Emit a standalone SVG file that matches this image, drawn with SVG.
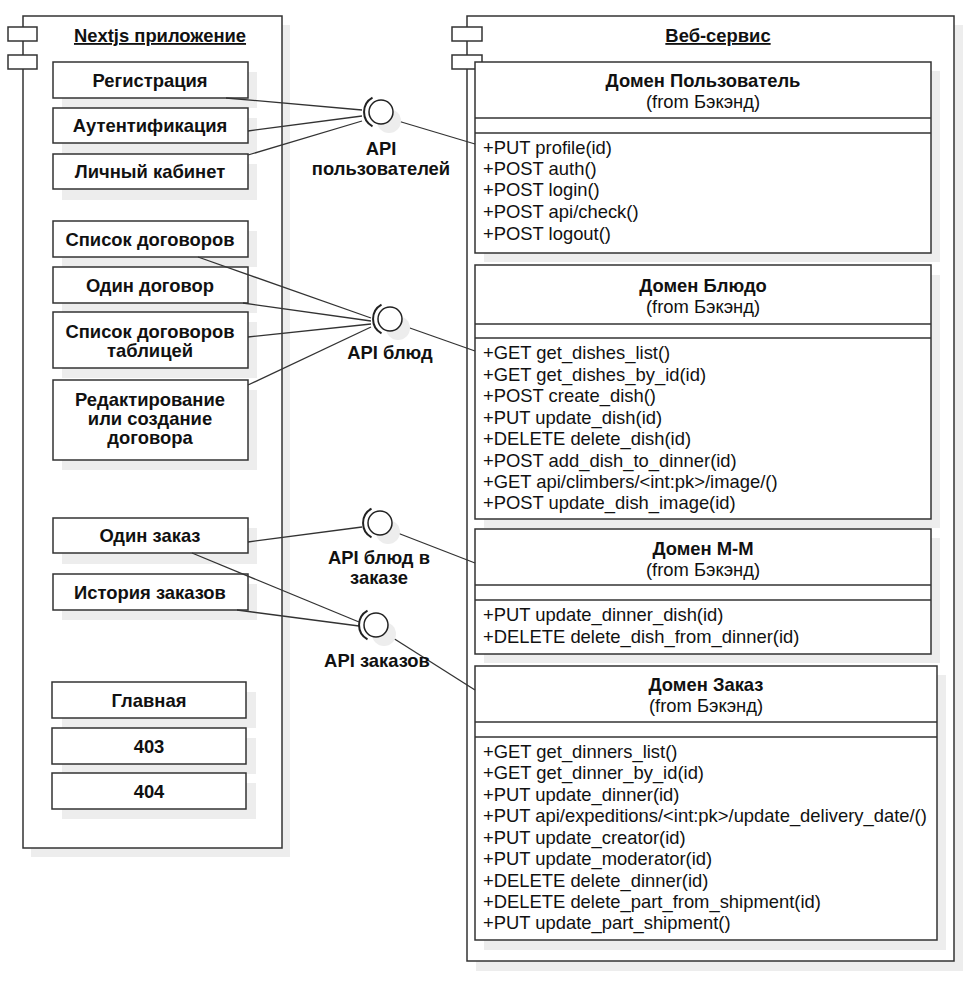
<svg xmlns="http://www.w3.org/2000/svg" width="974" height="983" viewBox="0 0 974 983">
<style>
.sh{fill:#ededed;stroke:none}
.bx{fill:#fff;stroke:#333;stroke-width:1.5}
.ln{fill:none;stroke:#333;stroke-width:1.3}
.t{font-family:"Liberation Sans",Arial,sans-serif;font-size:18.4px;fill:#111}
.b{font-weight:bold;text-anchor:middle}
.c{text-anchor:middle}
.ball{fill:#fff;stroke:#222;stroke-width:1.5}
.sock{fill:none;stroke:#222;stroke-width:2}
</style>
<rect width="974" height="983" fill="#fff"/>

<!-- Left component -->
<g id="nextjs">
<rect class="sh" x="31" y="25" width="259" height="832"/>
<rect class="bx" x="23" y="16" width="259" height="832"/>
<rect class="bx" x="8" y="27" width="29" height="14"/>
<rect class="bx" x="8" y="55" width="29" height="14"/>
<text class="t b" x="160" y="42" text-decoration="underline">Nextjs приложение</text>
</g>

<g id="n-reg"><rect class="sh" x="62" y="72" width="195" height="36"/><rect class="bx" x="53" y="62" width="195" height="36"/><text class="t b" x="150" y="87">Регистрация</text></g>
<g id="n-auth"><rect class="sh" x="62" y="118" width="195" height="36"/><rect class="bx" x="53" y="108" width="195" height="35"/><text class="t b" x="150" y="132">Аутентификация</text></g>
<g id="n-cab"><rect class="sh" x="62" y="164" width="195" height="36"/><rect class="bx" x="53" y="154" width="195" height="35"/><text class="t b" x="150" y="178">Личный кабинет</text></g>

<g id="n-list"><rect class="sh" x="62" y="231" width="195" height="36"/><rect class="bx" x="53" y="221" width="195" height="36"/><text class="t b" x="150" y="246">Список договоров</text></g>
<g id="n-one"><rect class="sh" x="62" y="277" width="195" height="36"/><rect class="bx" x="53" y="267" width="195" height="36"/><text class="t b" x="150" y="292">Один договор</text></g>
<g id="n-table"><rect class="sh" x="62" y="322" width="195" height="56"/><rect class="bx" x="53" y="312" width="195" height="56"/><text class="t b" x="150" y="338">Список договоров</text><text class="t b" x="150" y="357">таблицей</text></g>
<g id="n-edit"><rect class="sh" x="62" y="390" width="195" height="80"/><rect class="bx" x="53" y="380" width="195" height="80"/><text class="t b" x="150" y="406">Редактирование</text><text class="t b" x="150" y="425">или создание</text><text class="t b" x="150" y="444">договора</text></g>

<g id="n-order"><rect class="sh" x="62" y="528" width="195" height="36"/><rect class="bx" x="53" y="518" width="195" height="35"/><text class="t b" x="150" y="542">Один заказ</text></g>
<g id="n-hist"><rect class="sh" x="62" y="584" width="195" height="36"/><rect class="bx" x="53" y="574" width="195" height="36"/><text class="t b" x="150" y="599">История заказов</text></g>

<g id="n-main"><rect class="sh" x="62" y="692" width="194" height="36"/><rect class="bx" x="52" y="682" width="194" height="36"/><text class="t b" x="149" y="707">Главная</text></g>
<g id="n-403"><rect class="sh" x="62" y="738" width="194" height="36"/><rect class="bx" x="52" y="728" width="194" height="36"/><text class="t b" x="149" y="753">403</text></g>
<g id="n-404"><rect class="sh" x="62" y="783" width="194" height="36"/><rect class="bx" x="52" y="773" width="194" height="36"/><text class="t b" x="149" y="798">404</text></g>

<!-- Right component -->
<g id="webservice">
<rect class="sh" x="476" y="25" width="487" height="946"/>
<rect class="bx" x="467" y="16" width="487" height="945"/>
<rect class="bx" x="452" y="27" width="30" height="14"/>
<rect class="bx" x="452" y="55" width="30" height="14"/>
<text class="t b" x="718" y="42" text-decoration="underline">Веб-сервис</text>
</g>

<g id="d-user">
<rect class="sh" x="484" y="71" width="456" height="191"/>
<rect class="bx" x="475" y="62" width="456" height="191"/>
<line class="ln" x1="475" y1="118" x2="931" y2="118"/>
<line class="ln" x1="475" y1="133" x2="931" y2="133"/>
<text class="t b" x="703" y="87">Домен Пользователь</text>
<text class="t c" x="703" y="108">(from Бэкэнд)</text>
<text class="t" x="483" y="154">+PUT profile(id)</text>
<text class="t" x="483" y="175">+POST auth()</text>
<text class="t" x="483" y="196">+POST login()</text>
<text class="t" x="483" y="218">+POST api/check()</text>
<text class="t" x="483" y="240">+POST logout()</text>
</g>

<g id="d-dish">
<rect class="sh" x="484" y="275" width="456" height="253"/>
<rect class="bx" x="475" y="265" width="456" height="254"/>
<line class="ln" x1="475" y1="324" x2="931" y2="324"/>
<line class="ln" x1="475" y1="338" x2="931" y2="338"/>
<text class="t b" x="703" y="292">Домен Блюдо</text>
<text class="t c" x="703" y="313">(from Бэкэнд)</text>
<text class="t" x="483" y="359">+GET get_dishes_list()</text>
<text class="t" x="483" y="381">+GET get_dishes_by_id(id)</text>
<text class="t" x="483" y="402">+POST create_dish()</text>
<text class="t" x="483" y="424">+PUT update_dish(id)</text>
<text class="t" x="483" y="445">+DELETE delete_dish(id)</text>
<text class="t" x="483" y="467">+POST add_dish_to_dinner(id)</text>
<text class="t" x="483" y="488">+GET api/climbers/&lt;int:pk&gt;/image/()</text>
<text class="t" x="483" y="509">+POST update_dish_image(id)</text>
</g>

<g id="d-mm">
<rect class="sh" x="484" y="538" width="456" height="125"/>
<rect class="bx" x="475" y="529" width="456" height="125"/>
<line class="ln" x1="475" y1="585" x2="931" y2="585"/>
<line class="ln" x1="475" y1="600" x2="931" y2="600"/>
<text class="t b" x="703" y="555">Домен М-М</text>
<text class="t c" x="703" y="576">(from Бэкэнд)</text>
<text class="t" x="483" y="621">+PUT update_dinner_dish(id)</text>
<text class="t" x="483" y="643">+DELETE delete_dish_from_dinner(id)</text>
</g>

<g id="d-order">
<rect class="sh" x="484" y="675" width="462" height="275"/>
<rect class="bx" x="475" y="666" width="462" height="274"/>
<line class="ln" x1="475" y1="722" x2="937" y2="722"/>
<line class="ln" x1="475" y1="737" x2="937" y2="737"/>
<text class="t b" x="706" y="691">Домен Заказ</text>
<text class="t c" x="706" y="712">(from Бэкэнд)</text>
<text class="t" x="483" y="758">+GET get_dinners_list()</text>
<text class="t" x="483" y="779">+GET get_dinner_by_id(id)</text>
<text class="t" x="483" y="801">+PUT update_dinner(id)</text>
<text class="t" x="483" y="822">+PUT api/expeditions/&lt;int:pk&gt;/update_delivery_date/()</text>
<text class="t" x="483" y="844">+PUT update_creator(id)</text>
<text class="t" x="483" y="865">+PUT update_moderator(id)</text>
<text class="t" x="483" y="887">+DELETE delete_dinner(id)</text>
<text class="t" x="483" y="908">+DELETE delete_part_from_shipment(id)</text>
<text class="t" x="483" y="929">+PUT update_part_shipment()</text>
</g>

<!-- Connectors -->
<g id="connectors">
<line class="ln" x1="226" y1="98" x2="362" y2="110"/>
<line class="ln" x1="248" y1="131" x2="362" y2="116"/>
<line class="ln" x1="248" y1="155" x2="362" y2="121"/>
<line class="ln" x1="398" y1="121" x2="475" y2="144"/>

<line class="ln" x1="198" y1="257" x2="371" y2="318"/>
<line class="ln" x1="243" y1="303" x2="371" y2="321"/>
<line class="ln" x1="248" y1="337" x2="371" y2="324"/>
<line class="ln" x1="248" y1="385" x2="371" y2="327"/>
<line class="ln" x1="407" y1="327" x2="475" y2="351"/>

<line class="ln" x1="248" y1="542" x2="362" y2="527"/>
<line class="ln" x1="395" y1="532" x2="475" y2="563"/>

<line class="ln" x1="192" y1="553" x2="359" y2="622"/>
<line class="ln" x1="237" y1="610" x2="359" y2="626"/>
<line class="ln" x1="393" y1="638" x2="475" y2="690"/>
</g>

<!-- Interfaces -->
<g id="api-users">
<circle class="sh" cx="389" cy="121" r="12"/>
<circle class="ball" cx="381" cy="112" r="12"/>
<path class="sock" d="M372.5 97.6 A16.5 16.5 0 0 0 372.5 126.4"/>
<text class="t b" x="381" y="155">API</text>
<text class="t b" x="381" y="175">пользователей</text>
</g>
<g id="api-dish">
<circle class="sh" cx="398" cy="328" r="12"/>
<circle class="ball" cx="390" cy="319" r="12"/>
<path class="sock" d="M381.5 304.6 A16.5 16.5 0 0 0 381.5 333.4"/>
<text class="t b" x="390" y="359">API блюд</text>
</g>
<g id="api-dish-order">
<circle class="sh" cx="388" cy="532" r="12"/>
<circle class="ball" cx="380" cy="523" r="12"/>
<path class="sock" d="M371.5 508.6 A16.5 16.5 0 0 0 371.5 537.4"/>
<text class="t b" x="379" y="564">API блюд в</text>
<text class="t b" x="379" y="584">заказе</text>
</g>
<g id="api-orders">
<circle class="sh" cx="384" cy="634" r="12"/>
<circle class="ball" cx="376" cy="625" r="12"/>
<path class="sock" d="M367.5 610.6 A16.5 16.5 0 0 0 367.5 639.4"/>
<text class="t b" x="377" y="667">API заказов</text>
</g>
</svg>
